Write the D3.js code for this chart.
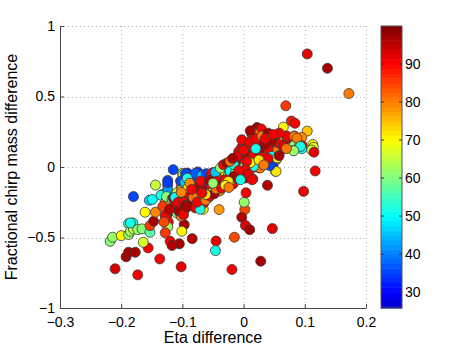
<!DOCTYPE html>
<html>
<head>
<meta charset="utf-8">
<script src="https://cdn.jsdelivr.net/npm/d3@7/dist/d3.min.js"></script>
<style>
  body { margin: 0; background: #fff; }
  text { font-family: "Liberation Sans", Arial, Helvetica, sans-serif; fill: #000; }
</style>
</head>
<body>
<svg id="chart" width="463" height="349"></svg>
<script>
// eta difference (x), fractional chirp mass difference (y), colour value (c)
const etaDiff = [
  0.104, 0.137, 0.172, 0.069, 0.078, 0.084, 0.065, 0.104, 0.095, 0.083,
  0.085, 0.076, 0.082, 0.096, 0.113, 0.114, 0.111, 0.115, 0.095, 0.117,
  0.098, 0.039, 0.047, 0.028, -0.019, -0.015, -0.045, -0.046, 0.002, 0.001,
  -0.003, 0.003, 0.010, 0.004, -0.040, -0.066, -0.084, -0.102, -0.105, -0.097,
  -0.101, -0.137, -0.156, -0.173, -0.210, -0.192, -0.188, -0.177, -0.218, -0.214,
  -0.200, -0.188, -0.181, -0.188, -0.185, -0.180, -0.173, -0.166, -0.164, -0.153,
  -0.153, -0.147, -0.180, -0.154, -0.149, -0.161, -0.144, -0.144, -0.133, -0.135,
  -0.128, -0.132, -0.124, -0.124, -0.124, -0.126, -0.114, -0.117, -0.127, -0.126,
  -0.123, -0.124, -0.128, -0.120, -0.117, -0.118, -0.117, -0.109, -0.105, -0.102,
  -0.128, -0.103, -0.100, -0.092, -0.098, -0.102, -0.109, -0.114, -0.097, -0.094,
  -0.094, -0.089, -0.086, -0.083, -0.084, -0.075, -0.072, -0.078, -0.078, -0.074,
  -0.078, -0.070, -0.064, -0.061, -0.065, -0.058, -0.055, -0.058, -0.050, -0.047,
  -0.048, -0.042, -0.039, -0.039, -0.036, -0.031, -0.032, -0.025, -0.023, -0.020,
  -0.017, -0.015, -0.011, -0.015, -0.010, -0.007, -0.003, 0.003, -0.003, 0.004,
  0.005, 0.008, -0.003, 0.009, 0.014, 0.015, 0.015, 0.020, 0.016, 0.015,
  0.013, 0.022, 0.029, 0.025, 0.032, 0.038, 0.044, 0.036, 0.047, 0.052,
  0.053, 0.053, 0.060, 0.057, 0.052, 0.048, 0.066, 0.069, 0.062, 0.071,
  -0.115, -0.099, -0.092, -0.086, -0.079, -0.068, -0.061, -0.053, -0.046, -0.038,
  -0.033, -0.027, -0.019, -0.012, -0.005, 0.001, -0.014, 0.000, 0.006, -0.022,
  -0.013, -0.005, 0.003, -0.083, -0.075, -0.065, -0.060, -0.053, -0.044, -0.035,
  -0.030, -0.022, -0.014, -0.095, -0.102, -0.109, -0.101, -0.092, -0.087, -0.090,
  -0.079, -0.052, -0.065, -0.071, -0.115, -0.113, -0.106, 0.016, 0.011, 0.071,
  0.083, 0.087, 0.093, 0.082, 0.062, 0.055, 0.046, 0.051, 0.040, 0.035,
  0.046, 0.055, 0.053, 0.040, 0.043, 0.025, 0.018, 0.013, -0.003, -0.008,
  0.003, 0.016, 0.025, 0.030, 0.027, 0.016, 0.011, 0.005, -0.016, -0.022,
  0.003, -0.008, -0.016, -0.005, 0.008, 0.014, -0.025, -0.124, -0.112, -0.101,
  -0.095, -0.102, -0.096, -0.092, -0.091, -0.088, -0.102, -0.107, -0.098, -0.095,
  -0.121, -0.185, -0.130, -0.098, -0.093, -0.071, -0.082, -0.076, -0.062, -0.055,
  -0.048, -0.045, -0.036, -0.030, -0.024, -0.062, -0.068, -0.070, -0.056, -0.050,
  -0.085, -0.010, -0.018, 0.000, 0.010, 0.020, 0.030, 0.040, 0.035, 0.058,
  0.048, 0.065, 0.070, 0.058, 0.040, 0.025, 0.033, 0.020
];
const mchirpDiff = [
  0.802, 0.700, 0.521, 0.434, 0.326, 0.310, 0.283, 0.255, 0.210, 0.220,
  0.190, 0.170, 0.118, 0.150, 0.160, 0.140, 0.120, 0.105, 0.130, -0.028,
  -0.173, -0.130, -0.437, -0.668, -0.727, -0.498, -0.525, -0.593, -0.302, -0.250,
  -0.357, -0.415, -0.445, -0.183, -0.302, -0.300, -0.508, -0.708, -0.545, -0.409,
  -0.456, -0.652, -0.574, -0.765, -0.722, -0.637, -0.605, -0.605, -0.527, -0.498,
  -0.487, -0.401, -0.397, -0.479, -0.456, -0.440, -0.444, -0.439, -0.534, -0.463,
  -0.416, -0.385, -0.210, -0.236, -0.230, -0.321, -0.321, -0.128, -0.196, -0.200,
  -0.250, -0.280, -0.095, -0.130, -0.160, -0.210, -0.220, -0.227, -0.360, -0.354,
  -0.390, -0.425, -0.467, -0.527, -0.557, -0.310, -0.302, -0.326, -0.320, -0.350,
  -0.345, -0.100, -0.045, -0.050, -0.160, -0.190, -0.230, -0.280, -0.230, -0.260,
  -0.290, -0.230, -0.180, -0.240, -0.120, -0.035, -0.060, -0.085, -0.130, -0.160,
  -0.190, -0.200, -0.055, -0.085, -0.160, -0.140, -0.180, -0.220, -0.040, -0.070,
  -0.090, -0.130, -0.170, -0.060, -0.010, -0.030, -0.100, -0.060, -0.025, -0.085,
  -0.120, -0.050, -0.080, 0.020, 0.050, -0.010, -0.035, -0.060, 0.005, 0.030,
  0.075, 0.110, 0.140, 0.140, 0.030, -0.005, -0.085, 0.090, 0.080, 0.230,
  0.240, 0.280, 0.270, -0.005, 0.075, 0.030, 0.115, 0.160, 0.195, 0.160,
  0.050, 0.090, 0.125, 0.110, -0.030, 0.005, 0.170, 0.220, 0.200, 0.200,
  -0.019, -0.055, -0.043, -0.090, -0.045, -0.062, -0.047, -0.047, -0.038, -0.007,
  0.016, 0.028, 0.028, 0.050, 0.075, 0.094, 0.020, -0.007, 0.030, -0.031,
  -0.040, -0.040, -0.078, -0.137, -0.137, -0.113, -0.161, -0.137, -0.102, -0.125,
  -0.090, -0.102, -0.070, -0.125, -0.140, -0.184, -0.208, -0.220, -0.195, -0.267,
  -0.290, -0.184, -0.255, -0.210, -0.220, -0.280, -0.310, 0.240, 0.257, 0.217,
  0.217, 0.205, 0.146, 0.115, 0.122, 0.170, 0.186, 0.108, 0.130, 0.158,
  0.075, 0.064, -0.031, 0.028, 0.010, 0.180, 0.165, 0.145, 0.193, 0.110,
  0.087, 0.080, 0.110, 0.070, -0.007, 0.004, 0.030, 0.040, 0.016, 0.040,
  -0.019, -0.025, -0.067, -0.090, -0.050, -0.090, -0.102, -0.110, -0.215, -0.160,
  -0.047, -0.100, -0.110, -0.080, -0.147, -0.115, -0.180, -0.250, -0.250, -0.272,
  -0.300, -0.397, -0.390, -0.338, -0.283, -0.300, -0.215, -0.250, -0.235, -0.205,
  -0.190, -0.155, -0.150, -0.130, -0.145, -0.195, -0.185, -0.100, -0.095, -0.115,
  -0.160, 0.080, 0.060, 0.120, 0.180, 0.200, 0.220, 0.240, 0.200, 0.240,
  0.230, 0.150, 0.130, 0.080, 0.060, 0.050, 0.015, 0.130
];
const colourVal = [
  92, 97, 80, 86, 88, 91, 71, 74, 79, 92,
  50, 62, 63, 90, 70, 67, 66, 92, 50, 90,
  90, 96, 92, 97, 91, 84, 92, 52, 84, 62,
  96, 92, 97, 90, 78, 71, 96, 92, 97, 97,
  71, 91, 91, 91, 93, 97, 97, 97, 61, 62,
  71, 56, 53, 62, 63, 66, 62, 61, 67, 57,
  86, 97, 35, 46, 51, 71, 79, 66, 47, 52,
  79, 86, 35, 38, 42, 60, 53, 60, 86, 90,
  90, 63, 86, 91, 96, 96, 97, 62, 65, 80,
  90, 33, 66, 32, 62, 80, 86, 90, 72, 63,
  90, 91, 72, 90, 90, 34, 38, 45, 89, 96,
  91, 97, 45, 72, 96, 90, 64, 73, 35, 89,
  71, 90, 79, 85, 91, 72, 50, 62, 51, 76,
  90, 91, 89, 92, 90, 51, 91, 93, 71, 72,
  80, 91, 92, 90, 51, 90, 91, 91, 97, 78,
  97, 97, 91, 79, 78, 33, 90, 91, 97, 96,
  79, 51, 35, 90, 71, 34, 80, 91, 71, 96,
  36, 66, 33, 35, 37, 46, 35, 90, 46, 62,
  91, 97, 80, 91, 90, 91, 97, 62, 72, 51,
  62, 91, 97, 97, 96, 90, 97, 91, 90, 97,
  91, 80, 91, 80, 86, 66, 90, 91, 90, 97,
  91, 63, 90, 62, 97, 91, 97, 80, 97, 91,
  79, 80, 52, 62, 35, 91, 97, 80, 90, 97,
  51, 71, 72, 34, 36, 97, 91, 90, 91, 91,
  97, 90, 97, 91, 80, 52, 71, 90, 52, 80,
  91, 90, 97, 52, 92, 91, 72, 34, 51, 72,
  35, 36, 46, 52, 72, 79, 79, 90, 90, 97,
  96, 52, 84, 91, 97, 52, 80, 90, 80, 90,
  97, 80, 90, 72, 80, 72, 91, 91, 97, 62,
  91, 92, 97, 91, 91, 90, 80, 97, 91, 91,
  91, 92, 80, 97, 92, 72, 80, 52
];

const xTicks = [-0.3, -0.2, -0.1, 0, 0.1, 0.2];
const yTicks = [-1, -0.5, 0, 0.5, 1];
const cbTicks = [30, 40, 50, 60, 70, 80, 90];
const cbRange = [25.8, 100];   // shown on the colorbar
const cMap = [20, 100];        // range spread over the jet colormap

const svg = d3.select("#chart");
const plot = { left: 60, right: 366, top: 26, bottom: 308 };
const cbar = { left: 381, right: 402 };

const x = d3.scaleLinear().domain([-0.3, 0.2]).range([plot.left, plot.right]);
const y = d3.scaleLinear().domain([-1, 1]).range([plot.bottom, plot.top]);

// MATLAB style jet colormap, 64 levels
const nLevels = 64;
const clamp = v => Math.max(0, Math.min(1, v));
const jet = t => {
  const r = clamp(1.5 - Math.abs(4 * t - 3));
  const g = clamp(1.5 - Math.abs(4 * t - 2));
  const b = clamp(1.5 - Math.abs(4 * t - 1));
  return d3.rgb(r * 255, g * 255, b * 255).toString();
};
const levelColour = i => jet((i + 0.5) / nLevels);
const cNorm = d3.scaleLinear().domain(cMap).range([0, 1]).clamp(true);
const colour = v => levelColour(Math.min(nLevels - 1, Math.floor(cNorm(v) * nLevels)));

const fmt = d => (d < 0 ? "\u2212" + Math.abs(d) : String(d));

// grid
const grid = svg.append("g").attr("class", "grid")
  .attr("stroke", "#b4b4b4").attr("stroke-dasharray", "1,3").attr("stroke-width", 1);
grid.selectAll(".gx").data(xTicks.slice(1)).enter().append("line")
  .attr("x1", d => x(d) + 0.5).attr("x2", d => x(d) + 0.5)
  .attr("y1", plot.top).attr("y2", plot.bottom);
grid.selectAll(".gy").data(yTicks.slice(1)).enter().append("line")
  .attr("y1", d => Math.round(y(d)) + 0.5).attr("y2", d => Math.round(y(d)) + 0.5)
  .attr("x1", plot.left).attr("x2", plot.right);

// points
const pts = d3.range(etaDiff.length).map(i => ({ x: etaDiff[i], y: mchirpDiff[i], c: colourVal[i] }));
svg.append("g").selectAll("circle").data(pts).enter().append("circle")
  .attr("cx", d => x(d.x))
  .attr("cy", d => y(d.y))
  .attr("r", 5)
  .attr("fill", d => colour(d.c))
  .attr("stroke", "#3a3a3a")
  .attr("stroke-width", 0.8);

// axes
const xAxis = svg.append("g").attr("transform", `translate(0,${plot.bottom})`)
  .call(d3.axisBottom(x).tickValues(xTicks).tickFormat(fmt).tickSizeInner(-4).tickSizeOuter(0).tickPadding(9));
const yAxis = svg.append("g").attr("transform", `translate(${plot.left},0)`)
  .call(d3.axisLeft(y).tickValues(yTicks).tickFormat(fmt).tickSizeInner(-4).tickSizeOuter(0).tickPadding(5));
[xAxis, yAxis].forEach(a => {
  a.select(".domain").attr("stroke", "#444");
  a.selectAll(".tick line").attr("stroke", "#444");
  a.selectAll("text").attr("font-size", 14)
    .attr("font-family", "'Liberation Sans', Arial, sans-serif").attr("fill", "#000");
});

// axis titles
svg.append("text")
  .attr("x", (plot.left + plot.right) / 2).attr("y", 343)
  .attr("text-anchor", "middle").attr("font-size", 16)
  .text("Eta difference");
svg.append("text")
  .attr("transform", `translate(17,${(plot.top + plot.bottom) / 2}) rotate(-90)`)
  .attr("text-anchor", "middle").attr("font-size", 16)
  .text("Fractional chirp mass difference");

// colorbar
const cy = d3.scaleLinear().domain(cbRange).range([plot.bottom, plot.top]);
const lvlSpan = (cMap[1] - cMap[0]) / nLevels;
const levels = d3.range(nLevels)
  .map(i => ({ i, lo: Math.max(cbRange[0], cMap[0] + i * lvlSpan), hi: Math.min(cbRange[1], cMap[0] + (i + 1) * lvlSpan) }))
  .filter(d => d.hi > d.lo);
const cb = svg.append("g");
cb.selectAll("rect").data(levels).enter().append("rect")
  .attr("x", cbar.left).attr("width", cbar.right - cbar.left)
  .attr("y", d => cy(d.hi)).attr("height", d => cy(d.lo) - cy(d.hi) + 0.5)
  .attr("fill", d => levelColour(d.i));
cb.append("rect")
  .attr("x", cbar.left).attr("y", plot.top)
  .attr("width", cbar.right - cbar.left).attr("height", plot.bottom - plot.top)
  .attr("fill", "none").attr("stroke", "#555").attr("stroke-width", 1);
const cbt = cb.selectAll(".cbt").data(cbTicks).enter().append("g")
  .attr("transform", d => `translate(0,${cy(d)})`);
cbt.append("line").attr("x1", cbar.left).attr("x2", cbar.left + 3).attr("stroke", "#333");
cbt.append("line").attr("x1", cbar.right - 3).attr("x2", cbar.right).attr("stroke", "#333");
cbt.append("text")
  .attr("x", 405).attr("dy", "0.36em").attr("font-size", 14)
  .text(d => d);
</script>
</body>
</html>
